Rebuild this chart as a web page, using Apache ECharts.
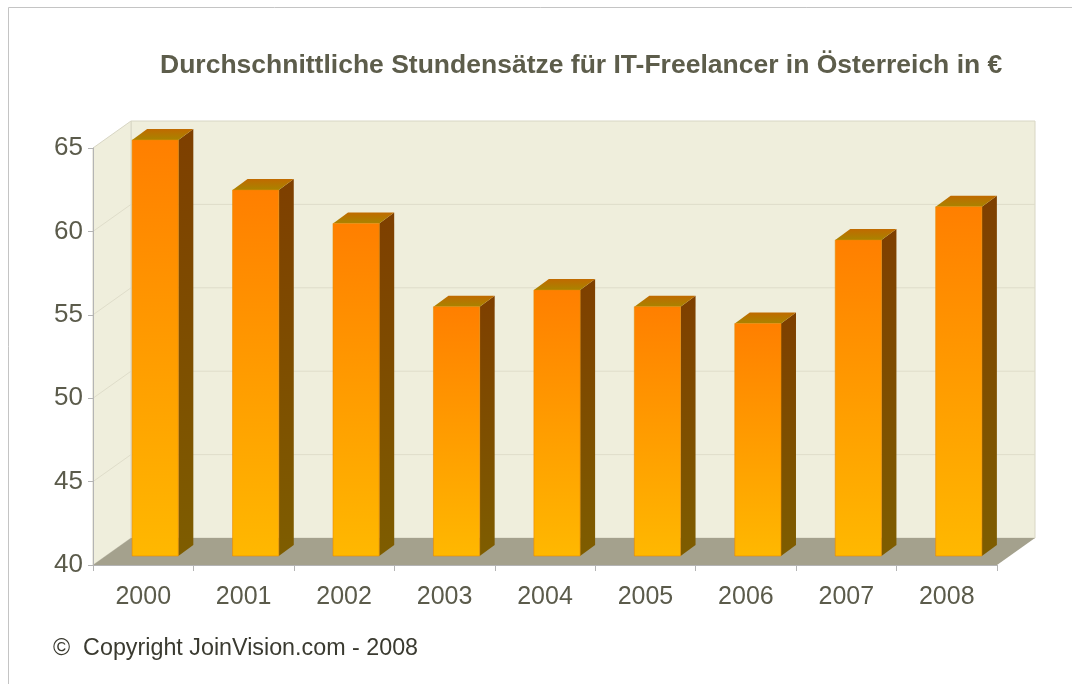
<!DOCTYPE html>
<html>
<head>
<meta charset="utf-8">
<title>Stundensätze IT-Freelancer Österreich</title>
<script src="https://cdn.jsdelivr.net/npm/echarts@6/dist/echarts.min.js"></script>
<style>
  html, body { margin: 0; padding: 0; background: #fff; }
  #chart { width: 1072px; height: 684px; }
</style>
</head>
<body>
<div id="chart"></div>
<script>
// data
const years = ['2000', '2001', '2002', '2003', '2004', '2005', '2006', '2007', '2008'];
const rates = [65, 62, 60, 55, 56, 55, 54, 59, 61];
const yTicks = [40, 45, 50, 55, 60, 65];

// pseudo 3d depth of the plot box
const DX = 38, DY = -27;
// bars sit in the middle third of the depth
const OX = 12, OY = -8;
const BX = 15, BY = -11;

const chart = echarts.init(document.getElementById('chart'));

function renderWalls(params, api) {
  const cs = params.coordSys;
  const x0 = cs.x, x1 = cs.x + cs.width;
  const yTop = cs.y, yBot = cs.y + cs.height;
  const wall = '#efeedc';
  const edge = '#d8d6c4';
  const children = [];
  // back wall
  children.push({
    type: 'rect',
    shape: { x: x0 + DX, y: yTop + DY, width: cs.width, height: cs.height },
    style: { fill: wall, stroke: edge, lineWidth: 1 }
  });
  // left wall
  children.push({
    type: 'polygon',
    shape: { points: [[x0, yTop], [x0 + DX, yTop + DY], [x0 + DX, yBot + DY], [x0, yBot]] },
    style: { fill: wall, stroke: edge, lineWidth: 1 }
  });
  // grid lines on the walls
  yTicks.forEach(function (v) {
    if (v === yTicks[0] || v === yTicks[yTicks.length - 1]) return;
    const y = api.coord([0, v])[1];
    children.push({
      type: 'polyline',
      shape: { points: [[x0, y], [x0 + DX, y + DY], [x1 + DX, y + DY]] },
      style: { stroke: '#dfddca', lineWidth: 1, fill: null }
    });
  });
  // floor
  children.push({
    type: 'polygon',
    shape: { points: [[x0, yBot], [x0 + DX, yBot + DY], [x1 + DX, yBot + DY], [x1, yBot]] },
    style: { fill: '#a4a18d' }
  });
  return { type: 'group', children: children };
}

function renderBar(params, api) {
  const idx = api.value(0);
  const top = api.coord([idx, api.value(1)]);
  const base = api.coord([idx, yTicks[0]]);
  const w = api.size([1, 0])[0] * 0.46;
  const xl = top[0] - w / 2 + OX, xr = top[0] + w / 2 + OX;
  const yt = top[1] + OY, yb = base[1] + OY - 1;
  return {
    type: 'group',
    children: [
      {
        type: 'polygon',
        shape: { points: [[xr, yt], [xr + BX, yt + BY], [xr + BX, yb + BY], [xr, yb]] },
        style: {
          fill: new echarts.graphic.LinearGradient(0, 0, 0, 1, [
            { offset: 0, color: '#7e3f00' },
            { offset: 1, color: '#7e5d00' }
          ])
        }
      },
      {
        type: 'polygon',
        shape: { points: [[xl, yt], [xl + BX, yt + BY], [xr + BX, yt + BY], [xr, yt]] },
        style: {
          fill: new echarts.graphic.LinearGradient(0, 0, 0, 1, [
            { offset: 0, color: '#c06a00' },
            { offset: 1, color: '#a88400' }
          ])
        }
      },
      {
        type: 'rect',
        shape: { x: xl, y: yt, width: xr - xl, height: yb - yt },
        style: {
          fill: new echarts.graphic.LinearGradient(0, 0, 0, 1, [
            { offset: 0, color: '#ff7f00' },
            { offset: 1, color: '#ffb800' }
          ]),
          stroke: '#e88a00',
          lineWidth: 0.6
        }
      }
    ]
  };
}

const option = {
  backgroundColor: '#ffffff',
  animation: false,
  textStyle: { fontFamily: 'Liberation Sans, Arial, sans-serif' },
  title: {
    text: 'Durchschnittliche Stundensätze für IT-Freelancer in Österreich in €',
    left: 155,
    top: 47,
    textStyle: { fontSize: 26.5, fontWeight: 'bold', color: '#5d5d4b' }
  },
  graphic: [
    {
      type: 'polyline',
      shape: { points: [[8.5, 700], [8.5, 7.5], [1080, 7.5]] },
      style: { stroke: '#c4c4c4', lineWidth: 1, fill: null },
      silent: true
    },
    {
      type: 'text',
      left: 53,
      top: 637,
      style: {
        text: '©  Copyright JoinVision.com - 2008',
        fontSize: 23.3,
        fill: '#3a3a30',
        fontFamily: 'Liberation Sans, Arial, sans-serif'
      }
    }
  ],
  grid: { left: 93, right: 75, top: 148, bottom: 119 },
  xAxis: {
    type: 'category',
    data: years,
    z: 5,
    axisLine: { show: true, lineStyle: { color: '#b4b4b4', width: 1 } },
    axisTick: { show: true, length: 6, lineStyle: { color: '#b4b4b4' } },
    axisLabel: { fontSize: 25, color: '#5b5b4b', margin: 20 },
    splitLine: { show: false }
  },
  yAxis: {
    type: 'value',
    min: 40,
    max: 65,
    interval: 5,
    z: 5,
    axisLine: { show: true, lineStyle: { color: '#b4b4b4', width: 1 } },
    axisTick: { show: true, length: 5, lineStyle: { color: '#b4b4b4' } },
    axisLabel: { fontSize: 26, color: '#5b5b4b', margin: 10 },
    splitLine: { show: false }
  },
  series: [
    {
      type: 'custom',
      z: 1,
      silent: true,
      renderItem: renderWalls,
      data: [[0, 40]]
    },
    {
      type: 'custom',
      z: 3,
      renderItem: renderBar,
      encode: { x: 0, y: 1 },
      data: rates.map(function (v, i) { return [i, v]; })
    }
  ]
};

chart.setOption(option);
</script>
</body>
</html>
